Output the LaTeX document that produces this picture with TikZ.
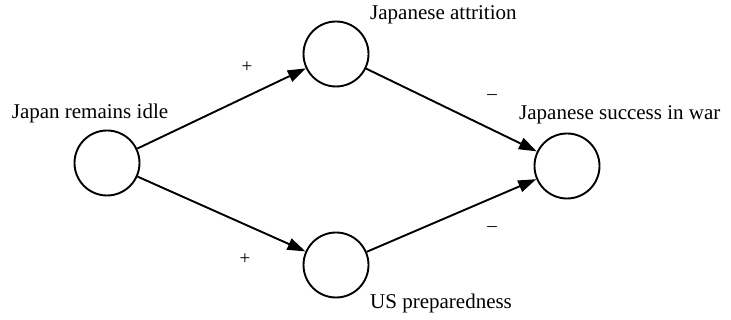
\documentclass[tikz,border=0pt]{standalone}
\usepackage{fontspec}
\setmainfont{Liberation Serif}
\usetikzlibrary{arrows.meta}
\begin{document}
\begin{tikzpicture}[x=1pt,y=1pt,
  var/.style={circle,draw,line width=1.9pt,minimum size=65pt,inner sep=0pt},
  lbl/.style={font=\fontsize{21}{23}\selectfont,inner sep=0pt},
  sign/.style={font=\fontsize{19}{21}\selectfont,inner sep=0pt},
  link/.style={line width=1.9pt,-{Triangle[length=18pt,width=12pt]}}]
\useasboundingbox (0,0) rectangle (731,320);
\node[var] (L) at (107,157) {};
\node[var] (T) at (336,266) {};
\node[var] (B) at (336,55) {};
\node[var] (R) at (567,154) {};
\node[lbl] (lL) at (90,207) {Japan remains idle};
\node[lbl,anchor=west] (lT) at (370,305) {Japanese attrition};
\node[lbl,anchor=west] (lB) at (370,17) {US preparedness};
\node[lbl,anchor=west] (lR) at (519,205) {Japanese success in war};
\draw[link] (L) -- (T);
\draw[link] (L) -- (B);
\draw[link] (T) -- (R);
\draw[link] (B) -- (R);
\node[sign] (p1) at (247,253) {+};
\node[sign] (p2) at (245,61) {+};
\node[sign] (m1) at (492,223) {\textendash};
\node[sign] (m2) at (492,91) {\textendash};
\end{tikzpicture}
\end{document}
